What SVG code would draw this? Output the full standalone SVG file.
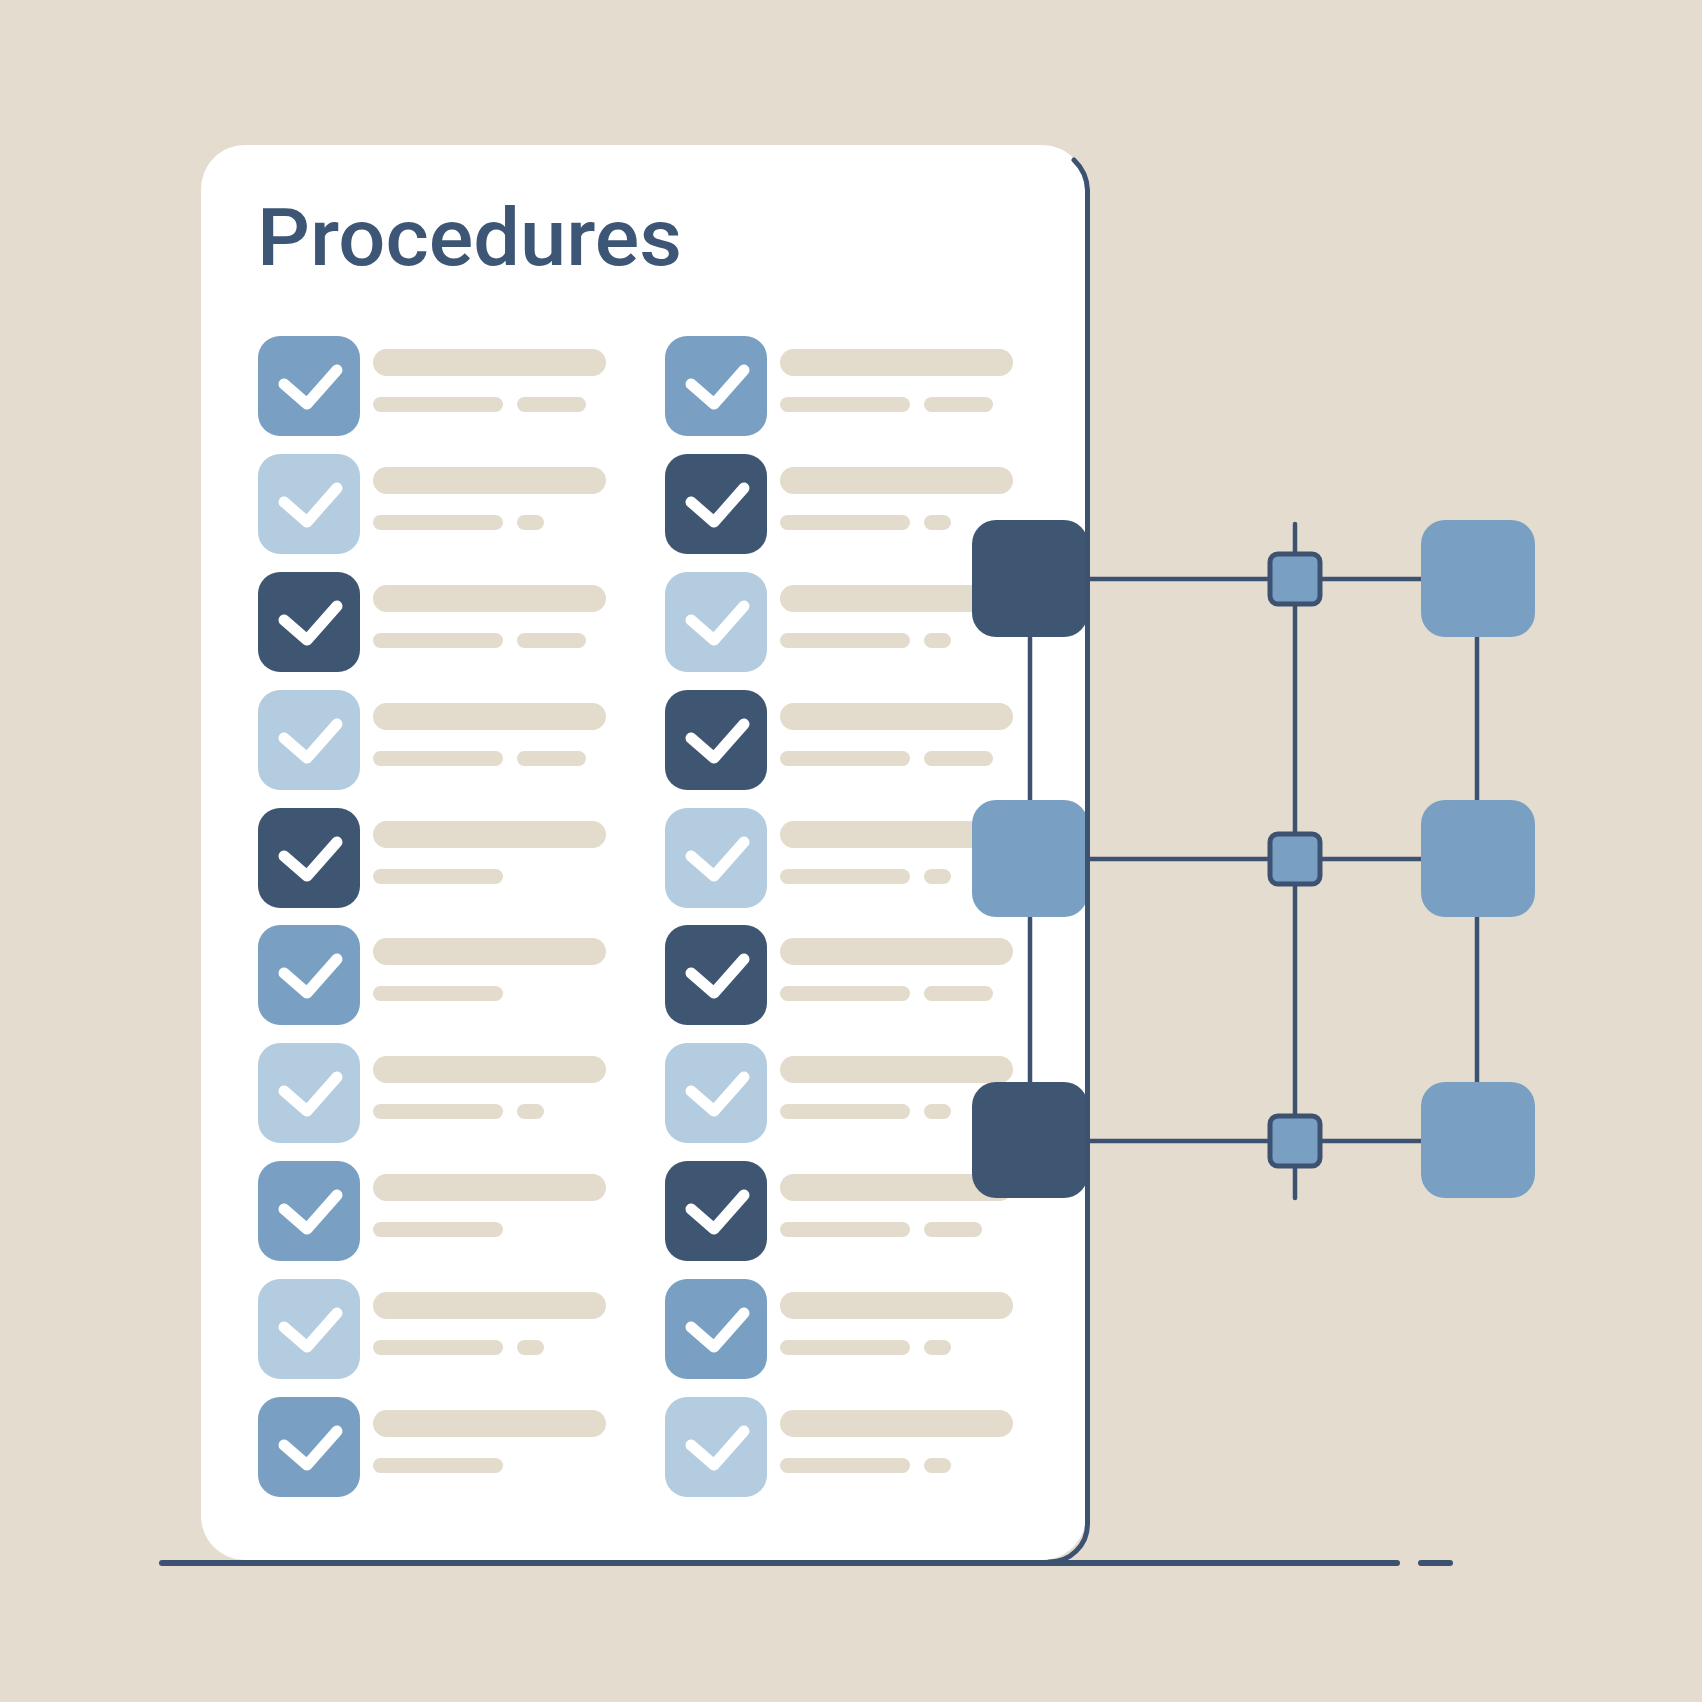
<svg xmlns="http://www.w3.org/2000/svg" xmlns:xlink="http://www.w3.org/1999/xlink" width="1702" height="1702" viewBox="0 0 1702 1702">
<style>
.bg{fill:#e4ddcf}
.card{fill:#ffffff}
.edge{fill:none;stroke:#3d5270;stroke-width:5;stroke-linecap:round}
.title{font-family:Roboto,"Liberation Sans",sans-serif;font-weight:500;font-size:80px;fill:#3d5675}
.dk{fill:#3f5673}
.md{fill:#79a0c3}
.lt{fill:#b4cce0}
.bar{fill:#e3dccd}
.ck{fill:none;stroke:#ffffff;stroke-width:11;stroke-linecap:round;stroke-linejoin:round}
.wire{fill:none;stroke:#3d5270;stroke-width:4.5;stroke-linecap:round}
.hub{fill:#79a0c3;stroke:#3d5270;stroke-width:5}
.ground{fill:none;stroke:#3d5270;stroke-width:6;stroke-linecap:round}
</style>
<defs>
<g id="row">
<rect x="115" y="13" width="233" height="27" rx="13.5" class="bar"/>
<rect x="115" y="61" width="130" height="15" rx="7.5" class="bar"/>
</g>
<path id="check" d="M26 48 L49 68 L79 34" class="ck"/>
<rect id="s2l" x="259" y="61" width="69" height="15" rx="7.5" class="bar"/>
<rect id="s2s" x="259" y="61" width="27" height="15" rx="7.5" class="bar"/>
<rect id="s2m" x="259" y="61" width="58" height="15" rx="7.5" class="bar"/>
</defs>
<rect width="1702" height="1702" class="bg"/>
<g id="card">
<rect x="201" y="145" width="885" height="1415" rx="44" class="card"/>
<text x="257" y="265" class="title" textLength="425" lengthAdjust="spacingAndGlyphs">Procedures</text>
</g>
<g id="left-items">
<g id="L1" transform="translate(258,336)"><rect width="102" height="100" rx="22" class="md"/><use href="#check"/><use href="#row"/><use href="#s2l"/></g>
<g id="L2" transform="translate(258,454)"><rect width="102" height="100" rx="22" class="lt"/><use href="#check"/><use href="#row"/><use href="#s2s"/></g>
<g id="L3" transform="translate(258,572)"><rect width="102" height="100" rx="22" class="dk"/><use href="#check"/><use href="#row"/><use href="#s2l"/></g>
<g id="L4" transform="translate(258,690)"><rect width="102" height="100" rx="22" class="lt"/><use href="#check"/><use href="#row"/><use href="#s2l"/></g>
<g id="L5" transform="translate(258,808)"><rect width="102" height="100" rx="22" class="dk"/><use href="#check"/><use href="#row"/></g>
<g id="L6" transform="translate(258,925)"><rect width="102" height="100" rx="22" class="md"/><use href="#check"/><use href="#row"/></g>
<g id="L7" transform="translate(258,1043)"><rect width="102" height="100" rx="22" class="lt"/><use href="#check"/><use href="#row"/><use href="#s2s"/></g>
<g id="L8" transform="translate(258,1161)"><rect width="102" height="100" rx="22" class="md"/><use href="#check"/><use href="#row"/></g>
<g id="L9" transform="translate(258,1279)"><rect width="102" height="100" rx="22" class="lt"/><use href="#check"/><use href="#row"/><use href="#s2s"/></g>
<g id="L10" transform="translate(258,1397)"><rect width="102" height="100" rx="22" class="md"/><use href="#check"/><use href="#row"/></g>
</g>
<g id="right-items">
<g id="R1" transform="translate(665,336)"><rect width="102" height="100" rx="22" class="md"/><use href="#check"/><use href="#row"/><use href="#s2l"/></g>
<g id="R2" transform="translate(665,454)"><rect width="102" height="100" rx="22" class="dk"/><use href="#check"/><use href="#row"/><use href="#s2s"/></g>
<g id="R3" transform="translate(665,572)"><rect width="102" height="100" rx="22" class="lt"/><use href="#check"/><use href="#row"/><use href="#s2s"/></g>
<g id="R4" transform="translate(665,690)"><rect width="102" height="100" rx="22" class="dk"/><use href="#check"/><use href="#row"/><use href="#s2l"/></g>
<g id="R5" transform="translate(665,808)"><rect width="102" height="100" rx="22" class="lt"/><use href="#check"/><use href="#row"/><use href="#s2s"/></g>
<g id="R6" transform="translate(665,925)"><rect width="102" height="100" rx="22" class="dk"/><use href="#check"/><use href="#row"/><use href="#s2l"/></g>
<g id="R7" transform="translate(665,1043)"><rect width="102" height="100" rx="22" class="lt"/><use href="#check"/><use href="#row"/><use href="#s2s"/></g>
<g id="R8" transform="translate(665,1161)"><rect width="102" height="100" rx="22" class="dk"/><use href="#check"/><use href="#row"/><use href="#s2m"/></g>
<g id="R9" transform="translate(665,1279)"><rect width="102" height="100" rx="22" class="md"/><use href="#check"/><use href="#row"/><use href="#s2s"/></g>
<g id="R10" transform="translate(665,1397)"><rect width="102" height="100" rx="22" class="lt"/><use href="#check"/><use href="#row"/><use href="#s2s"/></g>
</g>
<g id="connectors">
<line x1="1030" y1="578" x2="1030" y2="1140" class="wire"/>
<line x1="1477" y1="578" x2="1477" y2="1140" class="wire"/>
<line x1="1295" y1="524" x2="1295" y2="1198" class="wire"/>
<line x1="1086" y1="579" x2="1422" y2="579" class="wire"/>
<line x1="1086" y1="859" x2="1422" y2="859" class="wire"/>
<line x1="1086" y1="1141" x2="1422" y2="1141" class="wire"/>
</g>
<g id="n-left-top"><rect x="972" y="520" width="116" height="117" rx="24" class="dk"/></g>
<g id="n-left-mid"><rect x="972" y="800" width="116" height="117" rx="24" class="md"/></g>
<g id="n-left-bot"><rect x="972" y="1082" width="116" height="116" rx="24" class="dk"/></g>
<g id="n-right-top"><rect x="1421" y="520" width="114" height="117" rx="24" class="md"/></g>
<g id="n-right-mid"><rect x="1421" y="800" width="114" height="117" rx="24" class="md"/></g>
<g id="n-right-bot"><rect x="1421" y="1082" width="114" height="116" rx="24" class="md"/></g>
<g id="hub-1"><rect x="1270" y="554" width="50" height="50" rx="8" class="hub"/></g>
<g id="hub-2"><rect x="1270" y="834" width="50" height="50" rx="8" class="hub"/></g>
<g id="hub-3"><rect x="1270" y="1116" width="50" height="50" rx="8" class="hub"/></g>
<g id="card-edge">
<path d="M1074 160 A44 44 0 0 1 1087.5 190 L1087.5 1524 A38 38 0 0 1 1049 1562" class="edge"/>
</g>
<g id="ground">
<line x1="162" y1="1563" x2="1397" y2="1563" class="ground"/>
<line x1="1421" y1="1563" x2="1450" y2="1563" class="ground"/>
</g>
</svg>
